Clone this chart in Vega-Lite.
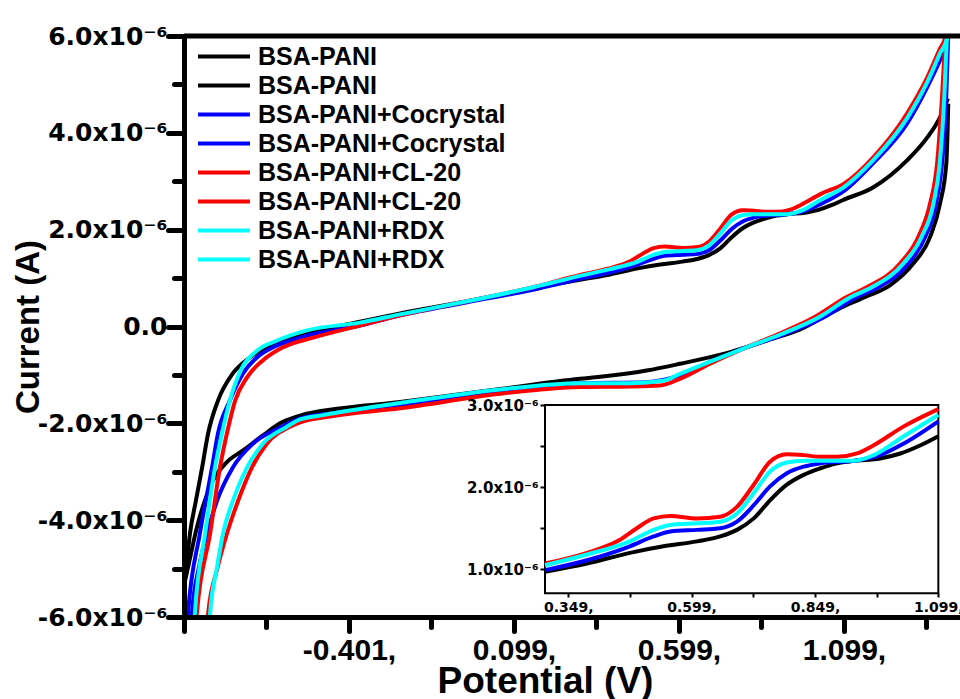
{
"$schema":"https://vega.github.io/schema/vega-lite/v6.json",
"width":776,"height":581,
"autosize":{"type":"none"},
"padding":{"left":184,"top":36,"right":0,"bottom":82},
"background":"white",
"config":{"view":{"stroke":null},"axis":{"grid":false}},
"datasets":{"cv":[
{"trace":"BSA-PANI #1","potential":-0.901,"current":-5.35e-6},
{"trace":"BSA-PANI #1","potential":-0.892,"current":-4.83e-6},
{"trace":"BSA-PANI #1","potential":-0.883,"current":-4.28e-6},
{"trace":"BSA-PANI #1","potential":-0.865,"current":-3.60e-6},
{"trace":"BSA-PANI #1","potential":-0.846,"current":-2.91e-6},
{"trace":"BSA-PANI #1","potential":-0.828,"current":-2.21e-6},
{"trace":"BSA-PANI #1","potential":-0.798,"current":-1.53e-6},
{"trace":"BSA-PANI #1","potential":-0.753,"current":-0.97e-6},
{"trace":"BSA-PANI #1","potential":-0.701,"current":-0.64e-6},
{"trace":"BSA-PANI #1","potential":-0.631,"current":-0.35e-6},
{"trace":"BSA-PANI #1","potential":-0.528,"current":-0.14e-6},
{"trace":"BSA-PANI #1","potential":-0.368,"current":0.10e-6},
{"trace":"BSA-PANI #1","potential":-0.246,"current":0.27e-6},
{"trace":"BSA-PANI #1","potential":-0.043,"current":0.52e-6},
{"trace":"BSA-PANI #1","potential":0.157,"current":0.79e-6},
{"trace":"BSA-PANI #1","potential":0.302,"current":0.97e-6},
{"trace":"BSA-PANI #1","potential":0.387,"current":1.07e-6},
{"trace":"BSA-PANI #1","potential":0.474,"current":1.20e-6},
{"trace":"BSA-PANI #1","potential":0.542,"current":1.28e-6},
{"trace":"BSA-PANI #1","potential":0.610,"current":1.34e-6},
{"trace":"BSA-PANI #1","potential":0.657,"current":1.40e-6},
{"trace":"BSA-PANI #1","potential":0.691,"current":1.48e-6},
{"trace":"BSA-PANI #1","potential":0.725,"current":1.62e-6},
{"trace":"BSA-PANI #1","potential":0.758,"current":1.84e-6},
{"trace":"BSA-PANI #1","potential":0.792,"current":2.03e-6},
{"trace":"BSA-PANI #1","potential":0.826,"current":2.15e-6},
{"trace":"BSA-PANI #1","potential":0.860,"current":2.23e-6},
{"trace":"BSA-PANI #1","potential":0.894,"current":2.29e-6},
{"trace":"BSA-PANI #1","potential":0.927,"current":2.32e-6},
{"trace":"BSA-PANI #1","potential":0.981,"current":2.35e-6},
{"trace":"BSA-PANI #1","potential":1.022,"current":2.41e-6},
{"trace":"BSA-PANI #1","potential":1.063,"current":2.51e-6},
{"trace":"BSA-PANI #1","potential":1.099,"current":2.62e-6},
{"trace":"BSA-PANI #1","potential":1.187,"current":2.87e-6},
{"trace":"BSA-PANI #1","potential":1.290,"current":3.43e-6},
{"trace":"BSA-PANI #1","potential":1.351,"current":3.90e-6},
{"trace":"BSA-PANI #1","potential":1.390,"current":4.32e-6},
{"trace":"BSA-PANI #1","potential":1.414,"current":4.71e-6},
{"trace":"BSA-PANI #2","potential":-0.901,"current":-5.35e-6},
{"trace":"BSA-PANI #2","potential":-0.889,"current":-4.98e-6},
{"trace":"BSA-PANI #2","potential":-0.862,"current":-4.15e-6},
{"trace":"BSA-PANI #2","potential":-0.838,"current":-3.60e-6},
{"trace":"BSA-PANI #2","potential":-0.813,"current":-3.18e-6},
{"trace":"BSA-PANI #2","potential":-0.771,"current":-2.80e-6},
{"trace":"BSA-PANI #2","potential":-0.722,"current":-2.56e-6},
{"trace":"BSA-PANI #2","potential":-0.662,"current":-2.25e-6},
{"trace":"BSA-PANI #2","potential":-0.610,"current":-2.00e-6},
{"trace":"BSA-PANI #2","potential":-0.549,"current":-1.84e-6},
{"trace":"BSA-PANI #2","potential":-0.437,"current":-1.70e-6},
{"trace":"BSA-PANI #2","potential":-0.246,"current":-1.56e-6},
{"trace":"BSA-PANI #2","potential":-0.146,"current":-1.47e-6},
{"trace":"BSA-PANI #2","potential":0.057,"current":-1.29e-6},
{"trace":"BSA-PANI #2","potential":0.299,"current":-1.08e-6},
{"trace":"BSA-PANI #2","potential":0.360,"current":-1.04e-6},
{"trace":"BSA-PANI #2","potential":0.501,"current":-0.91e-6},
{"trace":"BSA-PANI #2","potential":0.602,"current":-0.77e-6},
{"trace":"BSA-PANI #2","potential":0.754,"current":-0.53e-6},
{"trace":"BSA-PANI #2","potential":0.865,"current":-0.29e-6},
{"trace":"BSA-PANI #2","potential":0.966,"current":-0.06e-6},
{"trace":"BSA-PANI #2","potential":1.087,"current":0.38e-6},
{"trace":"BSA-PANI #2","potential":1.160,"current":0.60e-6},
{"trace":"BSA-PANI #2","potential":1.238,"current":0.85e-6},
{"trace":"BSA-PANI #2","potential":1.309,"current":1.30e-6},
{"trace":"BSA-PANI #2","potential":1.360,"current":1.85e-6},
{"trace":"BSA-PANI #2","potential":1.390,"current":2.54e-6},
{"trace":"BSA-PANI #2","potential":1.409,"current":3.36e-6},
{"trace":"BSA-PANI #2","potential":1.413,"current":4.05e-6},
{"trace":"BSA-PANI #2","potential":1.415,"current":4.60e-6},
{"trace":"BSA-PANI+Cocrystal #1","potential":-0.893,"current":-6.30e-6},
{"trace":"BSA-PANI+Cocrystal #1","potential":-0.889,"current":-5.93e-6},
{"trace":"BSA-PANI+Cocrystal #1","potential":-0.853,"current":-4.28e-6},
{"trace":"BSA-PANI+Cocrystal #1","potential":-0.816,"current":-2.91e-6},
{"trace":"BSA-PANI+Cocrystal #1","potential":-0.798,"current":-2.21e-6},
{"trace":"BSA-PANI+Cocrystal #1","potential":-0.762,"current":-1.53e-6},
{"trace":"BSA-PANI+Cocrystal #1","potential":-0.722,"current":-0.97e-6},
{"trace":"BSA-PANI+Cocrystal #1","potential":-0.680,"current":-0.64e-6},
{"trace":"BSA-PANI+Cocrystal #1","potential":-0.631,"current":-0.43e-6},
{"trace":"BSA-PANI+Cocrystal #1","potential":-0.549,"current":-0.23e-6},
{"trace":"BSA-PANI+Cocrystal #1","potential":-0.368,"current":0.02e-6},
{"trace":"BSA-PANI+Cocrystal #1","potential":-0.246,"current":0.23e-6},
{"trace":"BSA-PANI+Cocrystal #1","potential":-0.043,"current":0.50e-6},
{"trace":"BSA-PANI+Cocrystal #1","potential":0.157,"current":0.76e-6},
{"trace":"BSA-PANI+Cocrystal #1","potential":0.302,"current":0.99e-6},
{"trace":"BSA-PANI+Cocrystal #1","potential":0.387,"current":1.11e-6},
{"trace":"BSA-PANI+Cocrystal #1","potential":0.474,"current":1.28e-6},
{"trace":"BSA-PANI+Cocrystal #1","potential":0.522,"current":1.40e-6},
{"trace":"BSA-PANI+Cocrystal #1","potential":0.556,"current":1.46e-6},
{"trace":"BSA-PANI+Cocrystal #1","potential":0.610,"current":1.48e-6},
{"trace":"BSA-PANI+Cocrystal #1","potential":0.657,"current":1.50e-6},
{"trace":"BSA-PANI+Cocrystal #1","potential":0.691,"current":1.58e-6},
{"trace":"BSA-PANI+Cocrystal #1","potential":0.725,"current":1.78e-6},
{"trace":"BSA-PANI+Cocrystal #1","potential":0.758,"current":2.01e-6},
{"trace":"BSA-PANI+Cocrystal #1","potential":0.792,"current":2.17e-6},
{"trace":"BSA-PANI+Cocrystal #1","potential":0.826,"current":2.25e-6},
{"trace":"BSA-PANI+Cocrystal #1","potential":0.860,"current":2.29e-6},
{"trace":"BSA-PANI+Cocrystal #1","potential":0.927,"current":2.32e-6},
{"trace":"BSA-PANI+Cocrystal #1","potential":0.981,"current":2.39e-6},
{"trace":"BSA-PANI+Cocrystal #1","potential":1.029,"current":2.53e-6},
{"trace":"BSA-PANI+Cocrystal #1","potential":1.099,"current":2.80e-6},
{"trace":"BSA-PANI+Cocrystal #1","potential":1.187,"current":3.37e-6},
{"trace":"BSA-PANI+Cocrystal #1","potential":1.290,"current":4.19e-6},
{"trace":"BSA-PANI+Cocrystal #1","potential":1.351,"current":4.94e-6},
{"trace":"BSA-PANI+Cocrystal #1","potential":1.390,"current":5.50e-6},
{"trace":"BSA-PANI+Cocrystal #1","potential":1.411,"current":5.85e-6},
{"trace":"BSA-PANI+Cocrystal #1","potential":1.417,"current":6.30e-6},
{"trace":"BSA-PANI+Cocrystal #2","potential":-0.880,"current":-6.30e-6},
{"trace":"BSA-PANI+Cocrystal #2","potential":-0.877,"current":-5.93e-6},
{"trace":"BSA-PANI+Cocrystal #2","potential":-0.856,"current":-4.98e-6},
{"trace":"BSA-PANI+Cocrystal #2","potential":-0.831,"current":-4.28e-6},
{"trace":"BSA-PANI+Cocrystal #2","potential":-0.801,"current":-3.60e-6},
{"trace":"BSA-PANI+Cocrystal #2","potential":-0.753,"current":-2.91e-6},
{"trace":"BSA-PANI+Cocrystal #2","potential":-0.692,"current":-2.42e-6},
{"trace":"BSA-PANI+Cocrystal #2","potential":-0.610,"current":-2.09e-6},
{"trace":"BSA-PANI+Cocrystal #2","potential":-0.549,"current":-1.90e-6},
{"trace":"BSA-PANI+Cocrystal #2","potential":-0.437,"current":-1.78e-6},
{"trace":"BSA-PANI+Cocrystal #2","potential":-0.246,"current":-1.62e-6},
{"trace":"BSA-PANI+Cocrystal #2","potential":0.057,"current":-1.32e-6},
{"trace":"BSA-PANI+Cocrystal #2","potential":0.299,"current":-1.17e-6},
{"trace":"BSA-PANI+Cocrystal #2","potential":0.501,"current":-1.15e-6},
{"trace":"BSA-PANI+Cocrystal #2","potential":0.602,"current":-1.01e-6},
{"trace":"BSA-PANI+Cocrystal #2","potential":0.703,"current":-0.70e-6},
{"trace":"BSA-PANI+Cocrystal #2","potential":0.804,"current":-0.43e-6},
{"trace":"BSA-PANI+Cocrystal #2","potential":0.915,"current":-0.17e-6},
{"trace":"BSA-PANI+Cocrystal #2","potential":1.041,"current":0.20e-6},
{"trace":"BSA-PANI+Cocrystal #2","potential":1.135,"current":0.60e-6},
{"trace":"BSA-PANI+Cocrystal #2","potential":1.203,"current":0.81e-6},
{"trace":"BSA-PANI+Cocrystal #2","potential":1.294,"current":1.30e-6},
{"trace":"BSA-PANI+Cocrystal #2","potential":1.345,"current":1.85e-6},
{"trace":"BSA-PANI+Cocrystal #2","potential":1.378,"current":2.54e-6},
{"trace":"BSA-PANI+Cocrystal #2","potential":1.396,"current":3.36e-6},
{"trace":"BSA-PANI+Cocrystal #2","potential":1.409,"current":4.74e-6},
{"trace":"BSA-PANI+Cocrystal #2","potential":1.414,"current":5.84e-6},
{"trace":"BSA-PANI+Cocrystal #2","potential":1.418,"current":6.30e-6},
{"trace":"BSA-PANI+CL-20 #1","potential":-0.865,"current":-6.30e-6},
{"trace":"BSA-PANI+CL-20 #1","potential":-0.862,"current":-5.93e-6},
{"trace":"BSA-PANI+CL-20 #1","potential":-0.822,"current":-4.28e-6},
{"trace":"BSA-PANI+CL-20 #1","potential":-0.792,"current":-2.91e-6},
{"trace":"BSA-PANI+CL-20 #1","potential":-0.771,"current":-2.21e-6},
{"trace":"BSA-PANI+CL-20 #1","potential":-0.746,"current":-1.53e-6},
{"trace":"BSA-PANI+CL-20 #1","potential":-0.710,"current":-1.05e-6},
{"trace":"BSA-PANI+CL-20 #1","potential":-0.662,"current":-0.70e-6},
{"trace":"BSA-PANI+CL-20 #1","potential":-0.601,"current":-0.43e-6},
{"trace":"BSA-PANI+CL-20 #1","potential":-0.510,"current":-0.23e-6},
{"trace":"BSA-PANI+CL-20 #1","potential":-0.368,"current":0.02e-6},
{"trace":"BSA-PANI+CL-20 #1","potential":-0.246,"current":0.23e-6},
{"trace":"BSA-PANI+CL-20 #1","potential":-0.043,"current":0.52e-6},
{"trace":"BSA-PANI+CL-20 #1","potential":0.157,"current":0.81e-6},
{"trace":"BSA-PANI+CL-20 #1","potential":0.302,"current":1.07e-6},
{"trace":"BSA-PANI+CL-20 #1","potential":0.387,"current":1.20e-6},
{"trace":"BSA-PANI+CL-20 #1","potential":0.454,"current":1.36e-6},
{"trace":"BSA-PANI+CL-20 #1","potential":0.488,"current":1.50e-6},
{"trace":"BSA-PANI+CL-20 #1","potential":0.522,"current":1.62e-6},
{"trace":"BSA-PANI+CL-20 #1","potential":0.556,"current":1.65e-6},
{"trace":"BSA-PANI+CL-20 #1","potential":0.610,"current":1.62e-6},
{"trace":"BSA-PANI+CL-20 #1","potential":0.657,"current":1.64e-6},
{"trace":"BSA-PANI+CL-20 #1","potential":0.691,"current":1.76e-6},
{"trace":"BSA-PANI+CL-20 #1","potential":0.725,"current":2.03e-6},
{"trace":"BSA-PANI+CL-20 #1","potential":0.758,"current":2.31e-6},
{"trace":"BSA-PANI+CL-20 #1","potential":0.792,"current":2.40e-6},
{"trace":"BSA-PANI+CL-20 #1","potential":0.826,"current":2.39e-6},
{"trace":"BSA-PANI+CL-20 #1","potential":0.860,"current":2.37e-6},
{"trace":"BSA-PANI+CL-20 #1","potential":0.894,"current":2.37e-6},
{"trace":"BSA-PANI+CL-20 #1","potential":0.934,"current":2.41e-6},
{"trace":"BSA-PANI+CL-20 #1","potential":0.968,"current":2.51e-6},
{"trace":"BSA-PANI+CL-20 #1","potential":1.029,"current":2.74e-6},
{"trace":"BSA-PANI+CL-20 #1","potential":1.099,"current":2.95e-6},
{"trace":"BSA-PANI+CL-20 #1","potential":1.187,"current":3.49e-6},
{"trace":"BSA-PANI+CL-20 #1","potential":1.290,"current":4.40e-6},
{"trace":"BSA-PANI+CL-20 #1","potential":1.351,"current":5.14e-6},
{"trace":"BSA-PANI+CL-20 #1","potential":1.390,"current":5.74e-6},
{"trace":"BSA-PANI+CL-20 #1","potential":1.406,"current":5.97e-6},
{"trace":"BSA-PANI+CL-20 #1","potential":1.410,"current":6.30e-6},
{"trace":"BSA-PANI+CL-20 #2","potential":-0.832,"current":-6.30e-6},
{"trace":"BSA-PANI+CL-20 #2","potential":-0.828,"current":-5.93e-6},
{"trace":"BSA-PANI+CL-20 #2","potential":-0.800,"current":-5.00e-6},
{"trace":"BSA-PANI+CL-20 #2","potential":-0.771,"current":-4.28e-6},
{"trace":"BSA-PANI+CL-20 #2","potential":-0.737,"current":-3.60e-6},
{"trace":"BSA-PANI+CL-20 #2","potential":-0.695,"current":-2.91e-6},
{"trace":"BSA-PANI+CL-20 #2","potential":-0.650,"current":-2.42e-6},
{"trace":"BSA-PANI+CL-20 #2","potential":-0.580,"current":-2.07e-6},
{"trace":"BSA-PANI+CL-20 #2","potential":-0.549,"current":-1.98e-6},
{"trace":"BSA-PANI+CL-20 #2","potential":-0.459,"current":-1.86e-6},
{"trace":"BSA-PANI+CL-20 #2","potential":-0.246,"current":-1.69e-6},
{"trace":"BSA-PANI+CL-20 #2","potential":0.057,"current":-1.39e-6},
{"trace":"BSA-PANI+CL-20 #2","potential":0.299,"current":-1.25e-6},
{"trace":"BSA-PANI+CL-20 #2","potential":0.451,"current":-1.24e-6},
{"trace":"BSA-PANI+CL-20 #2","potential":0.541,"current":-1.22e-6},
{"trace":"BSA-PANI+CL-20 #2","potential":0.602,"current":-1.08e-6},
{"trace":"BSA-PANI+CL-20 #2","potential":0.693,"current":-0.77e-6},
{"trace":"BSA-PANI+CL-20 #2","potential":0.794,"current":-0.46e-6},
{"trace":"BSA-PANI+CL-20 #2","potential":0.895,"current":-0.17e-6},
{"trace":"BSA-PANI+CL-20 #2","potential":1.006,"current":0.18e-6},
{"trace":"BSA-PANI+CL-20 #2","potential":1.107,"current":0.61e-6},
{"trace":"BSA-PANI+CL-20 #2","potential":1.168,"current":0.81e-6},
{"trace":"BSA-PANI+CL-20 #2","potential":1.269,"current":1.30e-6},
{"trace":"BSA-PANI+CL-20 #2","potential":1.324,"current":1.85e-6},
{"trace":"BSA-PANI+CL-20 #2","potential":1.360,"current":2.54e-6},
{"trace":"BSA-PANI+CL-20 #2","potential":1.381,"current":3.36e-6},
{"trace":"BSA-PANI+CL-20 #2","potential":1.396,"current":4.74e-6},
{"trace":"BSA-PANI+CL-20 #2","potential":1.406,"current":5.90e-6},
{"trace":"BSA-PANI+CL-20 #2","potential":1.412,"current":6.30e-6},
{"trace":"BSA-PANI+RDX #1","potential":-0.871,"current":-6.30e-6},
{"trace":"BSA-PANI+RDX #1","potential":-0.868,"current":-5.93e-6},
{"trace":"BSA-PANI+RDX #1","potential":-0.837,"current":-4.28e-6},
{"trace":"BSA-PANI+RDX #1","potential":-0.807,"current":-2.91e-6},
{"trace":"BSA-PANI+RDX #1","potential":-0.786,"current":-2.21e-6},
{"trace":"BSA-PANI+RDX #1","potential":-0.762,"current":-1.53e-6},
{"trace":"BSA-PANI+RDX #1","potential":-0.725,"current":-0.85e-6},
{"trace":"BSA-PANI+RDX #1","potential":-0.680,"current":-0.50e-6},
{"trace":"BSA-PANI+RDX #1","potential":-0.619,"current":-0.29e-6},
{"trace":"BSA-PANI+RDX #1","potential":-0.528,"current":-0.08e-6},
{"trace":"BSA-PANI+RDX #1","potential":-0.368,"current":0.08e-6},
{"trace":"BSA-PANI+RDX #1","potential":-0.246,"current":0.25e-6},
{"trace":"BSA-PANI+RDX #1","potential":-0.043,"current":0.52e-6},
{"trace":"BSA-PANI+RDX #1","potential":0.157,"current":0.81e-6},
{"trace":"BSA-PANI+RDX #1","potential":0.302,"current":1.05e-6},
{"trace":"BSA-PANI+RDX #1","potential":0.387,"current":1.18e-6},
{"trace":"BSA-PANI+RDX #1","potential":0.474,"current":1.34e-6},
{"trace":"BSA-PANI+RDX #1","potential":0.522,"current":1.48e-6},
{"trace":"BSA-PANI+RDX #1","potential":0.556,"current":1.54e-6},
{"trace":"BSA-PANI+RDX #1","potential":0.610,"current":1.56e-6},
{"trace":"BSA-PANI+RDX #1","potential":0.657,"current":1.58e-6},
{"trace":"BSA-PANI+RDX #1","potential":0.691,"current":1.68e-6},
{"trace":"BSA-PANI+RDX #1","potential":0.725,"current":1.93e-6},
{"trace":"BSA-PANI+RDX #1","potential":0.758,"current":2.19e-6},
{"trace":"BSA-PANI+RDX #1","potential":0.792,"current":2.30e-6},
{"trace":"BSA-PANI+RDX #1","potential":0.826,"current":2.32e-6},
{"trace":"BSA-PANI+RDX #1","potential":0.860,"current":2.32e-6},
{"trace":"BSA-PANI+RDX #1","potential":0.927,"current":2.32e-6},
{"trace":"BSA-PANI+RDX #1","potential":0.968,"current":2.39e-6},
{"trace":"BSA-PANI+RDX #1","potential":1.029,"current":2.62e-6},
{"trace":"BSA-PANI+RDX #1","potential":1.099,"current":2.88e-6},
{"trace":"BSA-PANI+RDX #1","potential":1.187,"current":3.43e-6},
{"trace":"BSA-PANI+RDX #1","potential":1.290,"current":4.30e-6},
{"trace":"BSA-PANI+RDX #1","potential":1.351,"current":5.04e-6},
{"trace":"BSA-PANI+RDX #1","potential":1.390,"current":5.64e-6},
{"trace":"BSA-PANI+RDX #1","potential":1.411,"current":5.95e-6},
{"trace":"BSA-PANI+RDX #1","potential":1.414,"current":6.30e-6},
{"trace":"BSA-PANI+RDX #2","potential":-0.825,"current":-6.30e-6},
{"trace":"BSA-PANI+RDX #2","potential":-0.822,"current":-5.93e-6},
{"trace":"BSA-PANI+RDX #2","potential":-0.801,"current":-4.98e-6},
{"trace":"BSA-PANI+RDX #2","potential":-0.783,"current":-4.28e-6},
{"trace":"BSA-PANI+RDX #2","potential":-0.753,"current":-3.60e-6},
{"trace":"BSA-PANI+RDX #2","potential":-0.710,"current":-2.91e-6},
{"trace":"BSA-PANI+RDX #2","potential":-0.662,"current":-2.42e-6},
{"trace":"BSA-PANI+RDX #2","potential":-0.589,"current":-2.07e-6},
{"trace":"BSA-PANI+RDX #2","potential":-0.549,"current":-1.92e-6},
{"trace":"BSA-PANI+RDX #2","potential":-0.480,"current":-1.83e-6},
{"trace":"BSA-PANI+RDX #2","potential":-0.246,"current":-1.58e-6},
{"trace":"BSA-PANI+RDX #2","potential":0.057,"current":-1.30e-6},
{"trace":"BSA-PANI+RDX #2","potential":0.299,"current":-1.17e-6},
{"trace":"BSA-PANI+RDX #2","potential":0.451,"current":-1.17e-6},
{"trace":"BSA-PANI+RDX #2","potential":0.551,"current":-1.12e-6},
{"trace":"BSA-PANI+RDX #2","potential":0.602,"current":-0.98e-6},
{"trace":"BSA-PANI+RDX #2","potential":0.703,"current":-0.70e-6},
{"trace":"BSA-PANI+RDX #2","potential":0.804,"current":-0.43e-6},
{"trace":"BSA-PANI+RDX #2","potential":0.905,"current":-0.17e-6},
{"trace":"BSA-PANI+RDX #2","potential":1.026,"current":0.20e-6},
{"trace":"BSA-PANI+RDX #2","potential":1.117,"current":0.60e-6},
{"trace":"BSA-PANI+RDX #2","potential":1.183,"current":0.81e-6},
{"trace":"BSA-PANI+RDX #2","potential":1.279,"current":1.30e-6},
{"trace":"BSA-PANI+RDX #2","potential":1.334,"current":1.85e-6},
{"trace":"BSA-PANI+RDX #2","potential":1.370,"current":2.54e-6},
{"trace":"BSA-PANI+RDX #2","potential":1.389,"current":3.36e-6},
{"trace":"BSA-PANI+RDX #2","potential":1.403,"current":4.74e-6},
{"trace":"BSA-PANI+RDX #2","potential":1.410,"current":5.84e-6},
{"trace":"BSA-PANI+RDX #2","potential":1.414,"current":6.30e-6}
]},
"layer":[
{
"layer":[
{"data":{"name":"cv"},
"mark":{"type":"line","interpolate":"monotone","strokeWidth":4,"clip":true},
"encoding":{
"x":{"field":"potential","type":"quantitative","scale":{"domain":[-0.901,1.4506],"nice":false,"zero":false},
"axis":{"orient":"bottom","values":[-0.901,-0.651,-0.401,-0.151,0.099,0.349,0.599,0.849,1.099,1.349],
"labelExpr":"indexof([-0.401,0.099,0.599,1.099], datum.value) >= 0 ? (datum.value < 0 ? '-' : '') + format(abs(datum.value), '.3f') + ',' : ''",
"tickSize":{"condition":{"test":"indexof([-0.901,-0.401,0.099,0.599,1.099], datum.value) >= 0","value":14},"value":10},
"tickWidth":5,"tickColor":"black","tickCap":"round","domainWidth":5,"domainColor":"black","domainCap":"square",
"labelFont":"Liberation Sans","labelFontSize":30,"labelFontWeight":"bold","labelColor":"black","labelPadding":4,"labelFlush":false,"labelOverlap":false,
"title":"Potential (V)","titleFont":"Liberation Sans","titleFontSize":37,"titleFontWeight":"bold","titleColor":"black","titleX":361,"titleY":75,"titleBaseline":"alphabetic","titleAlign":"center","zindex":1}},
"y":{"field":"current","type":"quantitative","scale":{"domain":[-6e-6,6e-6],"nice":false,"zero":false},
"axis":{"orient":"left","values":[-6e-6,-5e-6,-4e-6,-3e-6,-2e-6,-1e-6,0,1e-6,2e-6,3e-6,4e-6,5e-6,6e-6],
"labelExpr":"abs(round(datum.value*1e6)) % 2 == 1 ? '' : (datum.value == 0 ? '0.0' : (datum.value < 0 ? '-' : '') + format(abs(datum.value)*1e6, '.1f') + 'x10\u207b\u2076')",
"tickSize":{"condition":{"test":"abs(round(datum.value*1e6)) % 2 == 1","value":10},"value":16},
"tickWidth":5,"tickColor":"black","tickCap":"round","domainWidth":5,"domainColor":"black","domainCap":"square",
"labelFont":"DejaVu Sans","labelFontSize":25,"labelFontWeight":"bold","labelColor":"black","labelPadding":1,"labelOverlap":false,"labelFlush":false,
"title":"Current (A)","titleFont":"Liberation Sans","titleFontSize":33,"titleFontWeight":"bold","titleColor":"black","titleX":-156,"titleBaseline":"middle","zindex":1}},
"color":{"field":"trace","type":"nominal",
"scale":{"domain":["BSA-PANI #1","BSA-PANI #2","BSA-PANI+Cocrystal #1","BSA-PANI+Cocrystal #2","BSA-PANI+CL-20 #1","BSA-PANI+CL-20 #2","BSA-PANI+RDX #1","BSA-PANI+RDX #2"],
"range":["#000000","#000000","#0000ff","#0000ff","#ff0000","#ff0000","#00ffff","#00ffff"]},
"legend":{"orient":"none","legendX":12,"legendY":6,"title":null,"symbolType":"stroke","symbolSize":2700,"symbolStrokeWidth":4,
"labelFont":"Liberation Sans","labelFontSize":25,"labelFontWeight":"bold","labelColor":"black","labelLimit":400,"labelOffset":6,"clipHeight":29,"rowPadding":0,"padding":0,
"labelExpr":"split(datum.label, ' #')[0]"}}
}},
{"data":{"values":[{}]},
"mark":{"type":"rule","strokeWidth":5,"color":"black"},
"encoding":{"y":{"datum":6e-6,"type":"quantitative"}}}
]},
{
"layer":[
{"data":{"values":[{}]},
"mark":{"type":"rect","fill":"white","stroke":"black","strokeWidth":2},
"encoding":{
"x":{"datum":0.302,"type":"quantitative"},
"x2":{"datum":1.099},
"y":{"datum":0.708e-6,"type":"quantitative"},
"y2":{"datum":3.0e-6}}},
{"data":{"name":"cv"},
"transform":[{"filter":"indexof(datum.trace, '#1') > 0 && datum.potential >= 0.302 && datum.potential <= 1.099"}],
"mark":{"type":"line","interpolate":"monotone","strokeWidth":4},
"encoding":{
"x":{"field":"potential","type":"quantitative","scale":{"domain":[-0.4295,1.1429],"nice":false,"zero":false},
"axis":{"orient":"bottom","offset":-24,"values":[0.349,0.474,0.599,0.724,0.849,0.974,1.099],
"labelExpr":"indexof([0.349,0.599,0.849,1.099], datum.value) >= 0 ? format(datum.value, '.3f') + ',' : ''",
"tickSize":4,"tickWidth":2,"tickColor":"black","domain":false,
"labelFont":"DejaVu Sans","labelFontSize":14,"labelFontWeight":"bold","labelColor":"black","labelPadding":3,"labelFlush":false,"labelOverlap":false,
"title":null,"zindex":1}},
"y":{"field":"current","type":"quantitative","scale":{"domain":[0.4195e-6,7.4918e-6],"nice":false,"zero":false},
"axis":{"orient":"left","offset":-361,"values":[1e-6,1.5e-6,2e-6,2.5e-6,3e-6],
"labelExpr":"abs(datum.value*1e6 - round(datum.value*1e6)) > 0.01 ? '' : format(datum.value*1e6, '.1f') + 'x10\u207b\u2076'",
"tickSize":5,"tickWidth":2,"tickColor":"black","domain":false,
"labelFont":"DejaVu Sans","labelFontSize":15,"labelFontWeight":"bold","labelColor":"black","labelPadding":2,"labelOverlap":false,"labelFlush":false,
"title":null,"zindex":1}},
"color":{"field":"trace","type":"nominal",
"scale":{"domain":["BSA-PANI #1","BSA-PANI #2","BSA-PANI+Cocrystal #1","BSA-PANI+Cocrystal #2","BSA-PANI+CL-20 #1","BSA-PANI+CL-20 #2","BSA-PANI+RDX #1","BSA-PANI+RDX #2"],
"range":["#000000","#000000","#0000ff","#0000ff","#ff0000","#ff0000","#00ffff","#00ffff"]},
"legend":{"orient":"none","legendX":12,"legendY":6,"title":null,"symbolType":"stroke","symbolSize":2700,"symbolStrokeWidth":4,
"labelFont":"Liberation Sans","labelFontSize":25,"labelFontWeight":"bold","labelColor":"black","labelLimit":400,"labelOffset":6,"clipHeight":29,"rowPadding":0,"padding":0,
"labelExpr":"split(datum.label, ' #')[0]"}}
}}
]}
],
"resolve":{"scale":{"x":"independent","y":"independent"},"axis":{"x":"independent","y":"independent"}}
}
